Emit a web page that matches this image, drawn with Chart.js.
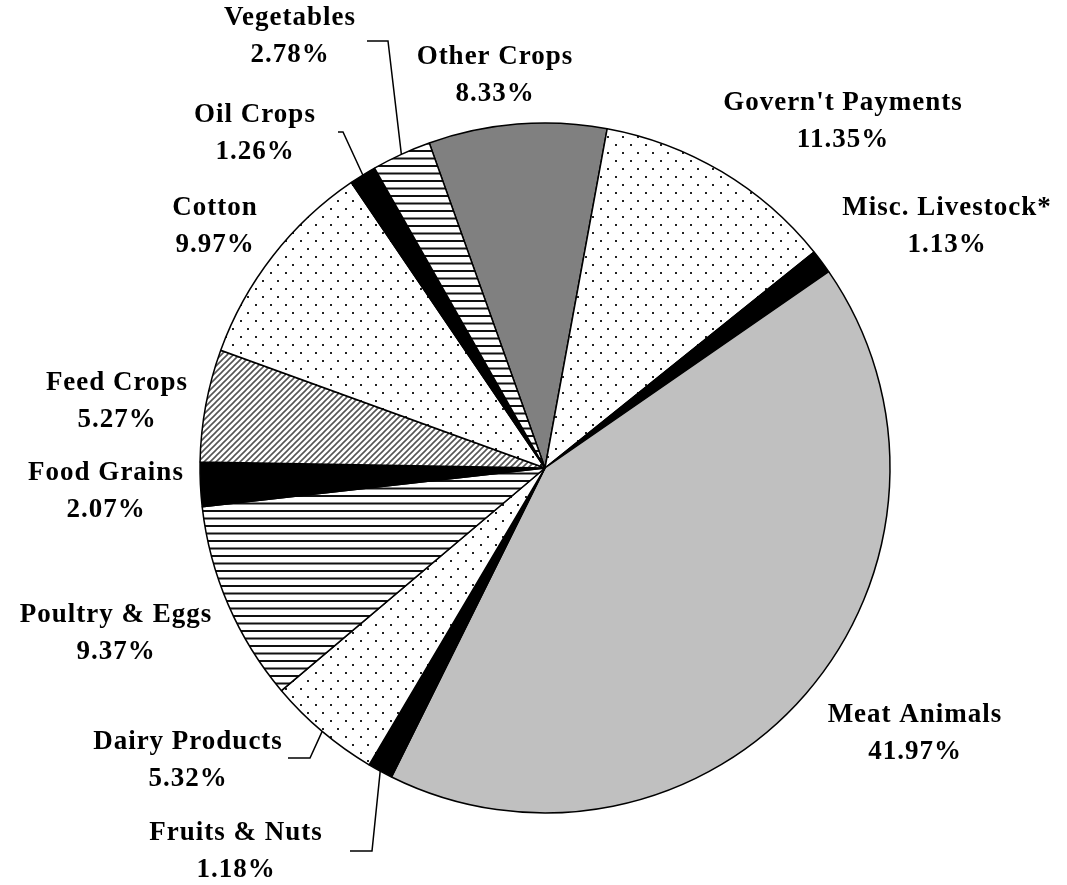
<!DOCTYPE html>
<html>
<head>
<meta charset="utf-8">
<script src="https://cdn.jsdelivr.net/npm/chart.js@4"></script>
<style>
  body { margin: 0; background: #fff; }
  canvas { display: block; }
</style>
</head>
<body>
<canvas id="myChart" width="1067" height="885"></canvas>
<script>
// data, clockwise starting at Other Crops
const categories = ['Other Crops', "Govern't Payments", 'Misc. Livestock*', 'Meat Animals', 'Fruits & Nuts',
  'Dairy Products', 'Poultry & Eggs', 'Food Grains', 'Feed Crops', 'Cotton', 'Oil Crops', 'Vegetables'];
const shares = [8.33, 11.35, 1.13, 41.97, 1.18, 5.32, 9.37, 2.07, 5.27, 9.97, 1.26, 2.78];
const fills = ['gray', 'dots', 'black', 'light', 'black', 'dots', 'hlines', 'black', 'diag', 'dots', 'black', 'hlines'];

// label place (first line centre) relative to pie centre
const labelOffsets = [
  [-50, -411], [298, -365], [402, -260], [370, 247], [-309, 365], [-357, 274],
  [-429, 147], [-439, 5], [-428, -85], [-330, -260], [-290, -353], [-255, -450]
];
// leader lines: slice index, elbow (relative to centre), tail length
const leaders = [
  { i: 11, elbow: [-157, -427], tail: -21 },
  { i: 10, elbow: [-202, -336], tail: -5 },
  { i: 5, elbow: [-235, 290], tail: -22 },
  { i: 4, elbow: [-173, 383], tail: -22 },
];

function makePattern(kind) {
  const c = document.createElement('canvas');
  const x = c.getContext('2d');
  if (kind === 'dots') {
    c.width = 15; c.height = 16;
    x.fillStyle = '#fff'; x.fillRect(0, 0, 15, 16);
    x.fillStyle = '#222';
    x.fillRect(0, 0, 2, 2);
    x.fillRect(7, 8, 2, 2);
  } else if (kind === 'hlines') {
    c.width = 4; c.height = 15;
    x.fillStyle = '#fff'; x.fillRect(0, 0, 4, 15);
    x.fillStyle = '#111';
    x.fillRect(0, 0, 4, 2);
    x.fillRect(0, 7.5, 4, 2);
  } else if (kind === 'diag') {
    c.width = 6; c.height = 6;
    x.fillStyle = '#fff'; x.fillRect(0, 0, 6, 6);
    x.strokeStyle = '#555';
    x.lineWidth = 1.6;
    x.beginPath();
    x.moveTo(-1, 7); x.lineTo(7, -1);
    x.moveTo(-4, 4); x.lineTo(4, -4);
    x.moveTo(2, 10); x.lineTo(10, 2);
    x.stroke();
  }
  return x.createPattern(c, 'repeat');
}

const colorMap = {
  gray: '#808080',
  light: '#c0c0c0',
  black: '#000000',
};
const bg = fills.map(f => colorMap[f] || makePattern(f));

const labelPlugin = {
  id: 'pieLabels',
  afterDraw(chart) {
    const ctx = chart.ctx;
    const meta = chart.getDatasetMeta(0);
    const cx = meta.data[0].x;
    const cy = meta.data[0].y;
    ctx.save();
    // leader lines
    ctx.strokeStyle = '#000';
    ctx.lineWidth = 1.5;
    leaders.forEach(l => {
      const arc = meta.data[l.i];
      const mid = (arc.startAngle + arc.endAngle) / 2;
      const r = arc.outerRadius;
      const ex = cx + l.elbow[0];
      const ey = cy + l.elbow[1];
      ctx.beginPath();
      ctx.moveTo(cx + r * Math.cos(mid), cy + r * Math.sin(mid));
      ctx.lineTo(ex, ey);
      ctx.lineTo(ex + l.tail, ey);
      ctx.stroke();
    });
    // text
    ctx.fillStyle = '#000';
    ctx.font = 'bold 27px "Liberation Serif", "Times New Roman", serif';
    ctx.letterSpacing = '1px';
    ctx.textAlign = 'center';
    ctx.textBaseline = 'middle';
    categories.forEach((name, i) => {
      const [dx, dy] = labelOffsets[i];
      ctx.fillText(name, cx + dx, cy + dy);
      ctx.fillText(shares[i].toFixed(2) + '%', cx + dx, cy + dy + 37);
    });
    ctx.restore();
  }
};

const ctx = document.getElementById('myChart');
const chart = new Chart(ctx, {
  type: 'pie',
  data: {
    labels: categories,
    datasets: [{
      data: shares,
      backgroundColor: bg,
      borderColor: '#000',
      borderWidth: 1.5,
    }]
  },
  options: {
    responsive: false,
    animation: false,
    devicePixelRatio: 1,
    events: [],
    rotation: -19.6,
    radius: 345,
    layout: {
      padding: { left: 200, right: 177, top: 123, bottom: 72 }
    },
    plugins: {
      legend: { display: false },
      tooltip: { enabled: false },
      title: { display: false },
    }
  },
  plugins: [labelPlugin]
});
</script>
</body>
</html>
